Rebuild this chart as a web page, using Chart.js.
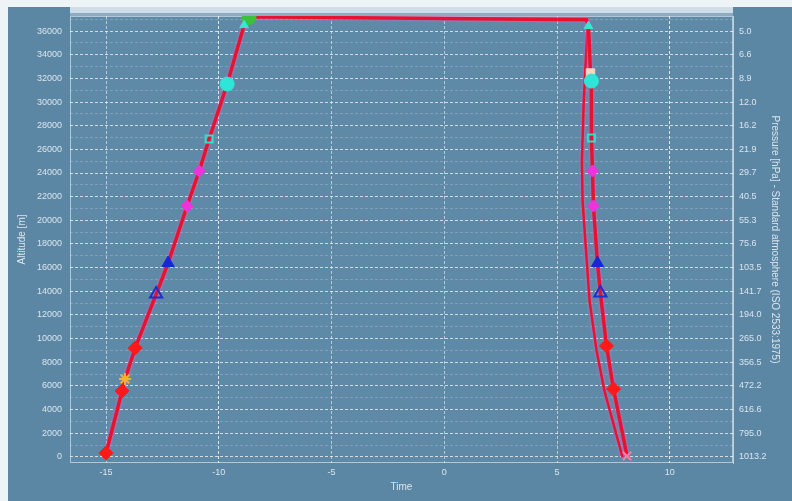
<!DOCTYPE html>
<html>
<head>
<meta charset="utf-8">
<script src="https://cdn.jsdelivr.net/npm/chart.js@4/dist/chart.umd.min.js"></script>
<style>
  html, body { margin: 0; padding: 0; background: #eef3f6; }
  #wrap { position: absolute; left: 8px; top: 7px; width: 784px; height: 494px; background: #5b87a5; }
  canvas { display: block; }
</style>
</head>
<body>
<div id="wrap"><canvas id="c" width="784" height="494"></canvas></div>
<script>
// Flight path: time vs altitude (ascent, float, descent)
const FLIGHT_T   = [-15.0, -14.29, -14.16, -13.71, -12.78, -12.25, -11.41, -10.87, -10.43, -9.63, -8.88, -8.66, 6.30, 6.39, 6.48, 6.52, 6.52, 6.57, 6.61, 6.79, 6.92, 7.19, 7.50, 8.10];
const FLIGHT_ALT = [340, 5580, 6590, 9210, 13770, 16390, 21210, 24170, 26870, 31520, 36500, 37200, 36950, 36420, 32450, 31770, 26960, 24170, 21210, 16390, 13860, 9380, 5750, 80];

// Second descent track
const TRACK2_T   = [6.35, 6.18, 6.10, 6.13, 6.44, 6.75, 7.10, 7.90];
const TRACK2_ALT = [36420, 30000, 25000, 21600, 13180, 9000, 5580, 0];

// Event markers
const RED_T = [-15.0, -14.29, -13.71, 7.19, 7.50];
const RED_ALT = [340, 5580, 9210, 9380, 5750];
const ORANGE_T = [-14.16];
const ORANGE_ALT = [6590];
const BLUE_OPEN_T = [-12.78, 6.92];
const BLUE_OPEN_ALT = [13770, 13860];
const BLUE_FILL_T = [-12.25, 6.79];
const BLUE_FILL_ALT = [16390, 16390];
const MAGENTA_T = [-11.41, -10.87, 6.61, 6.57];
const MAGENTA_ALT = [21210, 24170, 21210, 24170];
const CYAN_SQ_T = [-10.43, 6.52];
const CYAN_SQ_ALT = [26870, 26960];
const CYAN_CIRC_T = [-9.63, 6.52];
const CYAN_CIRC_ALT = [31520, 31770];
const CYAN_TOP_T = [-8.88, 6.39];
const CYAN_TOP_ALT = [36500, 36420];
const GREEN_T = [-8.66];
const GREEN_ALT = [37150];
const PALE_T = [6.48];
const PALE_ALT = [32450];
const END_T = [8.10];
const END_ALT = [80];

// Axis ticks
const TIME_TICKS = [-15, -10, -5, 0, 5, 10];
const ALT_TICKS = [0, 2000, 4000, 6000, 8000, 10000, 12000, 14000, 16000, 18000, 20000, 22000, 24000, 26000, 28000, 30000, 32000, 34000, 36000];
// Standard-atmosphere pressure (hPa) at each altitude tick
const PRESSURE_LABELS = ["1013.2", "795.0", "616.6", "472.2", "356.5", "265.0", "194.0", "141.7", "103.5", "75.6", "55.3", "40.5", "29.7", "21.9", "16.2", "12.0", "8.9", "6.6", "5.0"];

const zip = (t, a) => t.map((x, i) => ({ x: x, y: a[i] }));

const RED = '#e5132f';
const TXT = 'rgba(240,246,250,0.85)';
const FONT = { family: 'Liberation Sans, DejaVu Sans, sans-serif', size: 9 };
const ALT_MIN = -510, ALT_MAX = 37270;

// Minor (odd thousand) ticks give faint in-between grid lines
const allAltTicks = [];
for (let i = 0; i < ALT_TICKS.length; i++) {
  allAltTicks.push(ALT_TICKS[i]);
  if (i < ALT_TICKS.length - 1) allAltTicks.push((ALT_TICKS[i] + ALT_TICKS[i + 1]) / 2);
}
allAltTicks.push(37000);

const plotBg = {
  id: 'plotBg',
  beforeDraw(chart) {
    const { ctx, chartArea: a } = chart;
    ctx.save();
    ctx.fillStyle = '#5e8aa8';
    ctx.fillRect(a.left, a.top, a.right - a.left, a.bottom - a.top);
    ctx.fillStyle = 'rgba(235,242,247,0.8)';
    ctx.fillRect(a.left, 0, a.right - a.left, a.top - 3);
    ctx.fillStyle = 'rgba(235,242,247,0.35)';
    ctx.fillRect(a.left, a.top - 3, a.right - a.left, 3);
    ctx.strokeStyle = 'rgba(230,240,247,0.6)';
    ctx.lineWidth = 1;
    ctx.strokeRect(a.left + 0.5, a.top + 0.5, a.right - a.left - 1, a.bottom - a.top - 1);
    ctx.restore();
  },
  beforeDatasetDraw(chart, args) {
    const ds = chart.data.datasets[args.index];
    if (ds.glow) {
      chart.ctx.save();
      chart.ctx.shadowColor = 'rgba(255,90,200,0.8)';
      chart.ctx.shadowBlur = 3;
    }
  },
  afterDatasetDraw(chart, args) {
    const ds = chart.data.datasets[args.index];
    if (ds.glow) chart.ctx.restore();
  }
};

function markers(label, data, style, color, radius, fill) {
  return {
    type: 'scatter', label: label, data: data, showLine: false, order: 0,
    pointStyle: style, pointRadius: radius, pointHoverRadius: radius,
    pointBackgroundColor: fill ? color : 'rgba(0,0,0,0)',
    pointBorderColor: color, pointBorderWidth: fill ? 1 : 2
  };
}

const noPadV = s => { s.paddingTop = 0; s.paddingBottom = 0; };

new Chart(document.getElementById('c'), {
  type: 'scatter',
  data: {
    datasets: [
      { type: 'line', label: 'Track 2', data: zip(TRACK2_T, TRACK2_ALT), borderColor: RED, borderWidth: 2.5, pointRadius: 0, tension: 0, glow: true, order: 10 },
      { type: 'line', label: 'Flight', data: zip(FLIGHT_T, FLIGHT_ALT), borderColor: RED, borderWidth: 3.5, pointRadius: 0, tension: 0, glow: true, order: 9 },
      markers('Red', zip(RED_T, RED_ALT), 'rectRot', '#ff1a1a', 7, true),
      markers('Orange', zip(ORANGE_T, ORANGE_ALT), 'star', '#f2b233', 6, false),
      markers('Blue open', zip(BLUE_OPEN_T, BLUE_OPEN_ALT), 'triangle', '#1c2fd0', 7, false),
      markers('Blue', zip(BLUE_FILL_T, BLUE_FILL_ALT), 'triangle', '#1528d8', 7, true),
      markers('Magenta', zip(MAGENTA_T, MAGENTA_ALT), 'rectRot', '#ee33dd', 6, true),
      markers('Cyan square', zip(CYAN_SQ_T, CYAN_SQ_ALT), 'rect', '#2de0cf', 5, false),
      markers('Cyan', zip(CYAN_CIRC_T, CYAN_CIRC_ALT), 'circle', '#2ee6d8', 7, true),
      markers('Cyan top', zip(CYAN_TOP_T, CYAN_TOP_ALT), 'triangle', '#35e8d2', 5, true),
      markers('Green', zip(GREEN_T, GREEN_ALT), 'circle', '#3cc23a', 7, true),
      markers('Pale', zip(PALE_T, PALE_ALT), 'rect', '#f4d6c4', 6, true),
      markers('End', zip(END_T, END_ALT), 'crossRot', '#ff7aa0', 6, false)
    ]
  },
  options: {
    responsive: false,
    animation: false,
    layout: { padding: { top: 3, left: 0, right: 0, bottom: 0 } },
    plugins: { legend: { display: false }, tooltip: { enabled: false } },
    scales: {
      x: {
        type: 'linear', min: -16.6, max: 12.8,
        afterBuildTicks: s => { s.ticks = TIME_TICKS.map(v => ({ value: v })); },
        afterFit: s => { s.height = 38; s.paddingLeft = 0; s.paddingRight = 0; },
        grid: { color: c => (c.tick && c.tick.value % 10 === 0 && c.tick.value !== 0) ? 'rgba(255,255,255,0.8)' : 'rgba(255,255,255,0.55)', lineWidth: 1, drawTicks: false },
        border: { display: false, dash: [3, 2] },
        ticks: { color: TXT, font: FONT, padding: 4, callback: v => String(v) },
        title: { display: true, text: 'Time', color: TXT, font: { family: FONT.family, size: 10 }, padding: { top: 0, bottom: 8 } }
      },
      y: {
        type: 'linear', position: 'left', min: ALT_MIN, max: ALT_MAX,
        afterBuildTicks: s => { s.ticks = allAltTicks.map(v => ({ value: v })); },
        afterFit: s => { s.width = 62; noPadV(s); },
        grid: {
          drawTicks: false,
          color: c => (c.tick && c.tick.value % 2000 === 0) ? 'rgba(255,255,255,0.7)' : 'rgba(255,255,255,0.2)',
          lineWidth: 1
        },
        border: { display: false, dash: [3, 2] },
        ticks: {
          color: TXT, font: FONT, padding: 8, autoSkip: false,
          callback: v => (v % 2000 === 0 && v <= 36000) ? String(v) : ''
        },
        title: { display: true, text: 'Altitude [m]', color: TXT, font: { family: FONT.family, size: 10 }, padding: { top: 8, bottom: 0 } }
      },
      y2: {
        type: 'linear', position: 'right', min: ALT_MIN, max: ALT_MAX,
        afterBuildTicks: s => { s.ticks = ALT_TICKS.map(v => ({ value: v })); },
        afterFit: s => { s.width = 59; noPadV(s); },
        grid: { display: false, drawTicks: false },
        border: { display: true, color: 'rgba(230,240,247,0.7)' },
        ticks: {
          color: TXT, font: FONT, padding: 6, autoSkip: false,
          callback: v => PRESSURE_LABELS[ALT_TICKS.indexOf(v)]
        },
        title: { display: true, text: 'Pressure [hPa] - Standard atmosphere (ISO 2533:1975)', color: TXT, font: { family: FONT.family, size: 10 }, padding: { top: 11, bottom: 0 } }
      }
    }
  },
  plugins: [plotBg]
});
</script>
</body>
</html>
